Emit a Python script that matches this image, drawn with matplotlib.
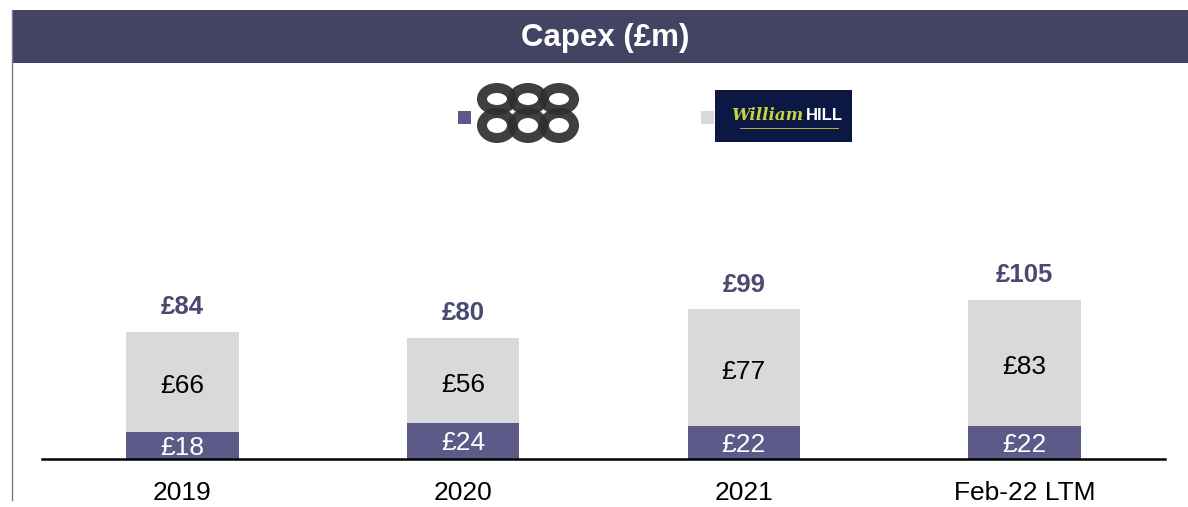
import numpy as np
import matplotlib
matplotlib.use('Agg')
from matplotlib import pyplot as plt
from matplotlib.patches import Rectangle, Ellipse

plt.rcParams['font.family'] = ['Liberation Sans', 'DejaVu Sans']

# data
years = ['2019', '2020', '2021', 'Feb-22 LTM']
capex_888 = [18, 24, 22, 22]
capex_wh = [66, 56, 77, 83]
capex_total = [84, 80, 99, 105]

col_888 = '#5b5a89'
col_wh = '#d9d9d9'
col_head = '#434363'
col_total = '#4a4a70'

W, H = 1188, 507
fig = plt.figure(figsize=(W / 100, H / 100), dpi=100)

# overlay in pixel coords for the header / logos
bg = fig.add_axes([0, 0, 1, 1])
bg.set_xlim(0, W)
bg.set_ylim(H, 0)
bg.axis('off')

bg.add_patch(Rectangle((12, 10), W - 12, 53, color=col_head, lw=0))
bg.plot([12, 12], [10, 500], color='#7a7a90', lw=1)
bg.text(605, 38, 'Capex (£m)', color='white', fontsize=22.5, fontweight='bold',
        ha='center', va='center')

# legend squares
bg.add_patch(Rectangle((458, 111), 13, 13, color=col_888, lw=0))
bg.add_patch(Rectangle((701, 111), 13, 13, color=col_wh, lw=0))

# 888 logo drawn as stacked rings
for cx in [497, 528, 559]:
    bg.add_patch(Ellipse((cx, 99), 30, 22, fill=False, ec='#2e2e2e', lw=7.2, alpha=0.92))
    bg.add_patch(Ellipse((cx, 125.5), 30, 25, fill=False, ec='#2e2e2e', lw=7.2, alpha=0.92))

# William Hill logo
bg.add_patch(Rectangle((715, 90), 137, 52, color='#0b1844', lw=0))
bg.text(767, 115, 'William', color='#c8d23c', fontsize=12, style='italic',
        fontweight='bold', family='DejaVu Serif', ha='center', va='center')
bg.text(824, 116, 'HILL', color='white', fontsize=12, fontweight='bold',
        ha='center', va='center')
bg.plot([740, 838], [128, 128], color='#c8d23c', lw=0.6)

# bar chart
ax = fig.add_axes([42 / W, 48 / H, (1165 - 42) / W, 182 / H])
x = np.arange(len(years))
ax.bar(x, capex_888, width=0.40, color=col_888, zorder=2)
ax.bar(x, capex_wh, width=0.40, bottom=capex_888, color=col_wh, zorder=2)
ax.set_xlim(-0.5, 3.5)
ax.set_ylim(0, 120)

for i in range(len(years)):
    ax.text(x[i], capex_888[i] / 2 - 1.5, '£%d' % capex_888[i], color='white',
            fontsize=19, ha='center', va='center', zorder=3)
    ax.text(x[i], capex_888[i] + capex_wh[i] / 2 - 3, '£%d' % capex_wh[i], color='black',
            fontsize=19, ha='center', va='center', zorder=3)
    ax.annotate('£%d' % capex_total[i], (x[i], capex_total[i]), xytext=(0, 17.5),
                textcoords='offset points', color=col_total, fontsize=18.5,
                fontweight='bold', ha='center', va='center')

for s in ['top', 'right', 'left']:
    ax.spines[s].set_visible(False)
ax.spines['bottom'].set_linewidth(1.8)
ax.set_yticks([])
ax.set_xticks(x)
ax.set_xticklabels(years, fontsize=19)
ax.tick_params(axis='x', length=0, pad=16)

plt.savefig('out.png', dpi=100)
